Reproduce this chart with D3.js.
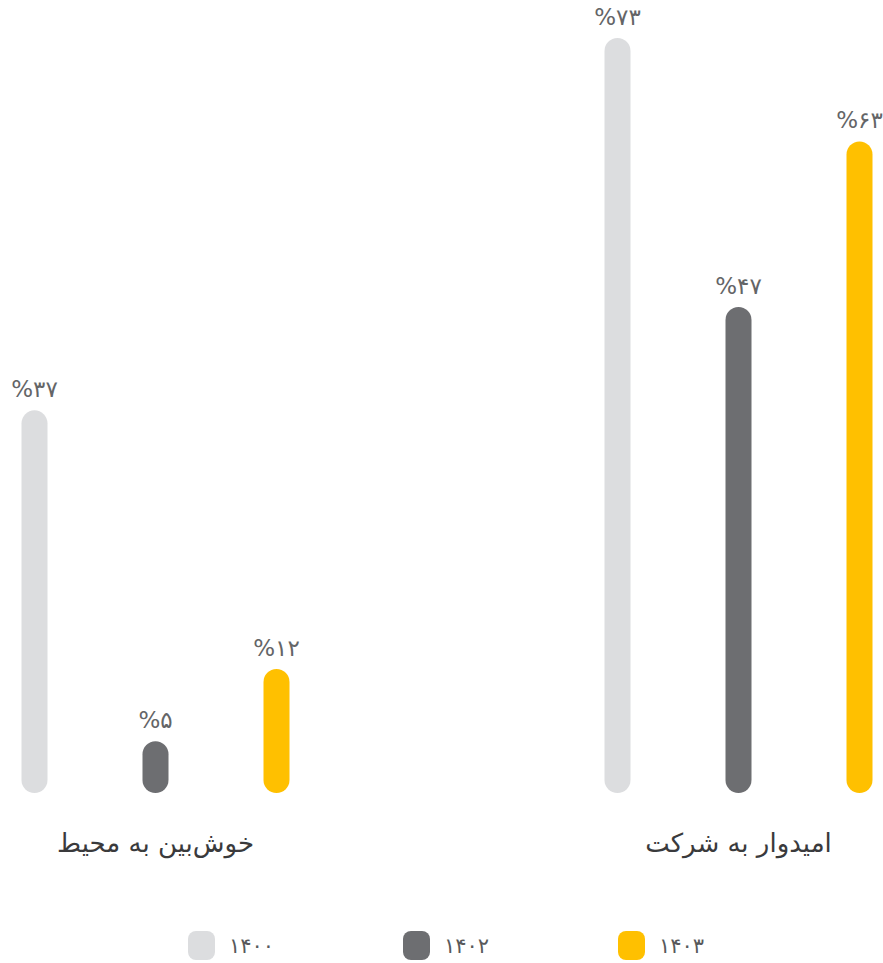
<!DOCTYPE html>
<html>
    <head>
        <meta charset="utf-8">
        <script src="https://cdn.jsdelivr.net/npm/d3@7"></script>
        <script>
            const categories = ["خوش\u200Cبین به محیط", "امیدوار به شرکت"];
            const years = ["1400", "1402", "1403"];
            const vals1400 = [37, 73];
            const vals1402 = [5, 47];
            const vals1403 = [12, 63];
            const colors = ["#dcdddf", "#6d6e71", "#ffc000"];

            const faDigits = "۰۱۲۳۴۵۶۷۸۹";
            const toFa = s => String(s).replace(/[0-9]/g, d => faDigits[+d]);

            function makeSVG() {
                var svg = d3.select("#fig");
                const font = "DejaVu Sans, sans-serif";

                const valsByYear = [vals1400, vals1402, vals1403];
                var ds = [];
                categories.forEach((c, i) => {
                    years.forEach((yr, j) => ds.push({ cat: c, year: yr, v: valsByYear[j][i] }));
                });

                // scales
                const x0 = d3.scalePoint().domain(categories).range([155.5, 738.5]);
                const x1 = d3.scalePoint().domain(years).range([-121, 121]);
                const y = d3.scaleLinear().domain([0, d3.max(ds, d => d.v)]).range([793, 38]);
                const col = d3.scaleOrdinal().domain(years).range(colors);
                const bw = 26;

                // bars
                svg.selectAll("rect.bar")
                   .data(ds)
                   .enter()
                   .append("rect")
                   .attr("class", "bar")
                   .attr("x", d => x0(d.cat) + x1(d.year) - bw / 2)
                   .attr("y", d => y(d.v))
                   .attr("width", bw)
                   .attr("height", d => y(0) - y(d.v))
                   .attr("rx", bw / 2)
                   .attr("fill", d => col(d.year));

                // value labels
                svg.selectAll("text.val")
                   .data(ds)
                   .enter()
                   .append("text")
                   .attr("class", "val")
                   .attr("x", d => x0(d.cat) + x1(d.year))
                   .attr("y", d => y(d.v) - 13)
                   .attr("text-anchor", "middle")
                   .attr("font-family", font)
                   .attr("font-size", 23)
                   .attr("fill", "#646567")
                   .text(d => "%" + toFa(d.v));

                // category labels
                svg.selectAll("text.cat")
                   .data(categories)
                   .enter()
                   .append("text")
                   .attr("class", "cat")
                   .attr("x", d => x0(d))
                   .attr("y", 852)
                   .attr("text-anchor", "middle")
                   .attr("font-family", font)
                   .attr("font-size", 26)
                   .attr("fill", "#3a3a3c")
                   .text(d => d);

                // legend
                const lx = d3.scalePoint().domain(years).range([188, 618]);
                var lg = svg.selectAll("g.leg")
                            .data(years)
                            .enter()
                            .append("g")
                            .attr("class", "leg")
                            .attr("transform", d => `translate(${lx(d)},931)`);
                lg.append("rect")
                  .attr("width", 27)
                  .attr("height", 29)
                  .attr("rx", 8)
                  .attr("fill", d => col(d));
                lg.append("text")
                  .attr("x", 41)
                  .attr("y", 22)
                  .attr("font-family", font)
                  .attr("font-size", 21)
                  .attr("fill", "#58595b")
                  .text(d => toFa(d));
            }
        </script>
    </head>
    <body onload="makeSVG()" style="margin:0">
        <svg id="fig" width="883" height="963" style="background: white; display:block"></svg>
    </body>
</html>
